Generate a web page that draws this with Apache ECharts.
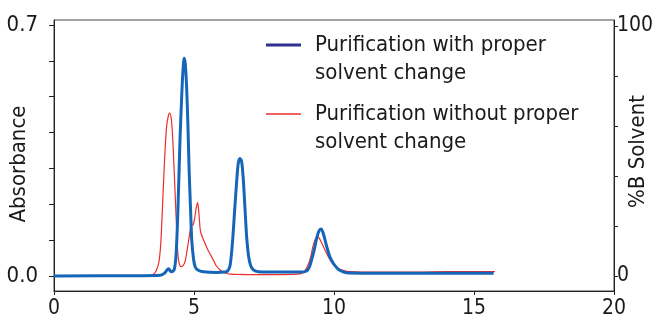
<!DOCTYPE html>
<html>
<head>
<meta charset="utf-8">
<script src="https://cdn.jsdelivr.net/npm/echarts@6/dist/echarts.min.js"></script>
<style>
  html, body { margin: 0; padding: 0; background: #fff; }
  #chart { width: 652px; height: 315px; }
</style>
</head>
<body>
<div id="chart"></div>
<script>
  // 吸光度曲线：时间(min) / 吸光度
  const withChange = [
    [0, 0], [3.0, 0.001], [3.8, 0.002], [3.95, 0.008], [4.05, 0.018], [4.1, 0.02],
    [4.15, 0.014], [4.22, 0.012], [4.3, 0.02], [4.36, 0.06], [4.42, 0.17], [4.5, 0.38],
    [4.56, 0.5], [4.6, 0.565], [4.65, 0.607], [4.69, 0.59], [4.74, 0.52], [4.79, 0.4],
    [4.83, 0.286], [4.88, 0.18], [4.92, 0.1], [4.98, 0.05], [5.04, 0.026], [5.15, 0.016],
    [5.33, 0.012], [5.8, 0.01], [6.1, 0.011], [6.2, 0.014], [6.29, 0.03], [6.38, 0.1],
    [6.46, 0.193], [6.53, 0.27], [6.58, 0.314], [6.64, 0.328], [6.7, 0.32], [6.76, 0.27],
    [6.82, 0.19], [6.88, 0.11], [6.95, 0.055], [7.02, 0.03], [7.12, 0.017], [7.3, 0.012],
    [8.0, 0.011], [8.8, 0.011], [9.02, 0.014], [9.12, 0.025], [9.2, 0.045], [9.3, 0.075],
    [9.38, 0.105], [9.46, 0.125], [9.54, 0.131], [9.62, 0.118], [9.74, 0.082], [9.86, 0.052],
    [9.98, 0.035], [10.1, 0.023], [10.2, 0.016], [10.45, 0.009], [11, 0.008], [12, 0.008],
    [13, 0.008], [14, 0.008], [15, 0.008], [15.7, 0.008]
  ];
  const withoutChange = [
    [0, 0], [3.4, 0.001], [3.55, 0.005], [3.65, 0.015], [3.75, 0.04], [3.82, 0.1],
    [3.9, 0.24], [3.96, 0.34], [4.02, 0.416], [4.08, 0.445], [4.13, 0.454], [4.2, 0.43],
    [4.26, 0.35], [4.32, 0.24], [4.38, 0.13], [4.42, 0.064], [4.47, 0.035], [4.53, 0.026],
    [4.6, 0.028], [4.68, 0.04], [4.75, 0.07], [4.83, 0.11], [4.9, 0.14], [4.97, 0.143],
    [5.02, 0.16], [5.08, 0.19], [5.13, 0.205], [5.18, 0.17], [5.23, 0.125], [5.3, 0.108],
    [5.4, 0.09], [5.5, 0.072], [5.6, 0.058], [5.7, 0.043], [5.8, 0.028], [5.93, 0.017],
    [6.1, 0.009], [6.3, 0.005], [7, 0.004], [8, 0.004], [8.7, 0.005], [8.9, 0.009],
    [9.04, 0.025], [9.14, 0.045], [9.26, 0.086], [9.34, 0.104], [9.42, 0.11], [9.5, 0.102],
    [9.62, 0.082], [9.74, 0.062], [9.86, 0.045], [10.0, 0.03], [10.15, 0.021], [10.35, 0.015],
    [10.57, 0.012], [11, 0.011], [12, 0.011], [13, 0.011], [14, 0.012], [15, 0.012], [15.75, 0.012]
  ];
  const absTicks = [0, 0.1, 0.2, 0.3, 0.4, 0.5, 0.6, 0.7];
  const absLabels = [0, 0.7];
  const solventTicks = [0, 20, 40, 60, 80, 100];
  const solventLabels = [0, 100];
  const names = ["Purification with proper\nsolvent change", "Purification without proper\nsolvent change"];

  const font = "'Liberation Sans Narrow', 'DejaVu Sans Condensed', sans-serif";
  const ink = "#1a1a1a";

  const myChart = echarts.init(document.getElementById("chart"), null, { renderer: "canvas" });
  const legendBase = {
    orient: "vertical",
    icon: "rect",
    itemWidth: 35,
    padding: 0,
    selectedMode: false,
    // 前面加一个空行，让图例线对齐第一行文字
    formatter: name => "\n" + name,
    textStyle: { fontFamily: font, fontSize: 22, color: ink, lineHeight: 28, padding: [0, 0, 0, 9] }
  };
  const option = {
    animation: false,
    grid: {
      left: 54, right: 38, top: 20, bottom: 24,
      outerBoundsMode: "none", containLabel: false,
      show: true, borderColor: "#444", borderWidth: 1
    },
    legend: [
      Object.assign({}, legendBase, {
        left: 266, top: 3, itemHeight: 3,
        data: [{ name: names[0], itemStyle: { color: "#2e3192" } }]
      }),
      Object.assign({}, legendBase, {
        left: 266, top: 72, itemHeight: 1.5,
        data: [{ name: names[1], itemStyle: { color: "#ee2b2b" } }]
      })
    ],
    xAxis: {
      type: "value", min: 0, max: 20, interval: 5,
      axisLine: { onZero: false, lineStyle: { color: "#222", width: 1 } },
      axisTick: { show: true, length: 4, lineStyle: { color: "#222" } },
      splitLine: { show: false },
      axisLabel: { fontFamily: font, fontSize: 21, color: ink, margin: 7 }
    },
    yAxis: [
      {
        type: "value", min: -0.0418, max: 0.7139,
        name: "Absorbance", nameLocation: "middle", nameRotate: 90, nameGap: 24,
        nameMoveOverlap: false,
        nameTextStyle: { fontFamily: font, fontSize: 22, color: ink, padding: [0, 17, 0, 0] },
        axisLine: { show: true, onZero: false, lineStyle: { color: "#222" } },
        axisTick: { show: true, length: 5, customValues: absTicks, lineStyle: { color: "#222" } },
        splitLine: { show: false },
        axisLabel: {
          customValues: absLabels, fontFamily: font, fontSize: 22, color: ink, margin: 16,
          formatter: v => v.toFixed(1)
        }
      },
      {
        type: "value", min: -6, max: 102.4, position: "right",
        name: "%B Solvent", nameLocation: "middle", nameRotate: 90, nameGap: 13,
        nameMoveOverlap: false,
        nameTextStyle: { fontFamily: font, fontSize: 22, color: ink, padding: [0, 0, 0, 8] },
        axisLine: { show: true, onZero: false, lineStyle: { color: "#222" } },
        axisTick: { show: true, length: 4, customValues: solventTicks, lineStyle: { color: "#222" } },
        splitLine: { show: false },
        axisLabel: { customValues: solventLabels, fontFamily: font, fontSize: 21, color: ink, margin: 3 }
      }
    ],
    series: [
      {
        name: names[1], type: "line", data: withoutChange, yAxisIndex: 0,
        showSymbol: false, symbol: "none", smooth: 0.3,
        lineStyle: { color: "#ee2b2b", width: 1.2 }, itemStyle: { color: "#ee2b2b" }
      },
      {
        name: names[0], type: "line", data: withChange, yAxisIndex: 0,
        showSymbol: false, symbol: "none", smooth: 0.3,
        lineStyle: { color: "#1565b8", width: 3 }, itemStyle: { color: "#1565b8" }
      }
    ]
  };
  myChart.setOption(option);
</script>
</body>
</html>
